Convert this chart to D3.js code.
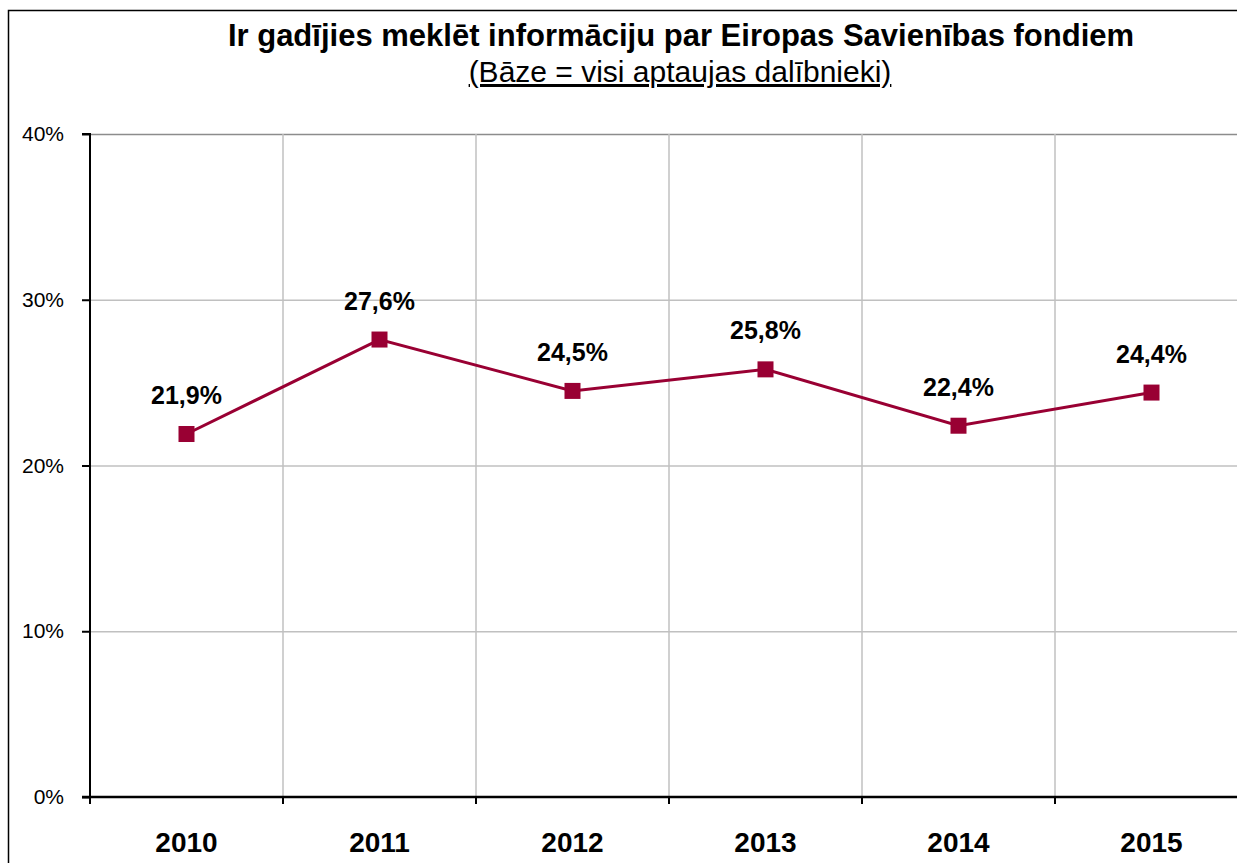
<!DOCTYPE html>
<html>
<head>
<meta charset="utf-8">
<script src="https://cdn.jsdelivr.net/npm/d3@7"></script>
<style>
html, body { margin: 0; padding: 0; background: #fff; }
svg { display: block; font-family: "Liberation Sans", Arial, sans-serif; }
</style>
</head>
<body>
<svg id="chart" width="1237" height="863"></svg>
<script>
// data
var years = ["2010", "2011", "2012", "2013", "2014", "2015"];
var values = [21.9, 27.6, 24.5, 25.8, 22.4, 24.4];
var yTicks = [0, 10, 20, 30, 40];

var svg = d3.select("#chart");
var plotLeft = 90, plotTop = 134, plotBottom = 797, band = 193;
var plotRight = plotLeft + band * years.length;

var x = d3.scaleBand().domain(years).range([plotLeft, plotRight]);
var y = d3.scaleLinear().domain([0, 40]).range([plotBottom, plotTop]);

// outer frame
svg.append("rect")
    .attr("x", 8.5).attr("y", 10.5)
    .attr("width", 1240).attr("height", 900)
    .attr("fill", "none").attr("stroke", "#000").attr("stroke-width", 1.5);

// horizontal grid
svg.append("g").selectAll("line")
    .data(yTicks.filter(function(d) { return d > 0; }))
  .enter().append("line")
    .attr("x1", plotLeft).attr("x2", plotRight)
    .attr("y1", function(d) { return y(d) + 0.5; })
    .attr("y2", function(d) { return y(d) + 0.5; })
    .attr("stroke", function(d) { return d === 40 ? "#8c8c8c" : "#c0c0c0"; })
    .attr("stroke-width", 1.5);

// vertical grid at band edges
svg.append("g").selectAll("line")
    .data(years.slice(1))
  .enter().append("line")
    .attr("x1", function(d) { return x(d); })
    .attr("x2", function(d) { return x(d); })
    .attr("y1", plotTop).attr("y2", plotBottom)
    .attr("stroke", "#c0c0c0").attr("stroke-width", 1.5);

// y axis
var yAxis = d3.axisLeft(y).tickValues(yTicks)
    .tickFormat(function(d) { return d + "%"; })
    .tickSize(8).tickPadding(18);
var gy = svg.append("g").attr("transform", "translate(" + plotLeft + ",0)").call(yAxis);
gy.select(".domain").attr("stroke", "#000").attr("stroke-width", 2)
    .attr("d", "M-8," + plotTop + "H0V" + plotBottom + "H-8");
gy.selectAll(".tick line").attr("stroke", "#000").attr("stroke-width", 2);
gy.selectAll(".tick text").attr("font-size", 21).attr("fill", "#000")
    .attr("font-family", "Liberation Sans, Arial, sans-serif");

// x axis
var gx = svg.append("g").attr("transform", "translate(0," + plotBottom + ")");
gx.append("line").attr("x1", plotLeft - 8).attr("x2", plotRight)
    .attr("stroke", "#000").attr("stroke-width", 2.5);
gx.selectAll("line.tk").data(years).enter().append("line")
    .attr("class", "tk")
    .attr("x1", function(d) { return x(d); })
    .attr("x2", function(d) { return x(d); })
    .attr("y1", 0).attr("y2", 7)
    .attr("stroke", "#000").attr("stroke-width", 2);
gx.selectAll("text").data(years).enter().append("text")
    .attr("x", function(d) { return x(d) + x.bandwidth() / 2; })
    .attr("y", 55)
    .attr("text-anchor", "middle")
    .attr("font-size", 28).attr("font-weight", "bold")
    .text(function(d) { return d; });

// line
var cx = function(d, i) { return x(years[i]) + x.bandwidth() / 2; };
var line = d3.line().x(cx).y(function(d) { return y(d); });
svg.append("path").datum(values)
    .attr("d", line)
    .attr("fill", "none").attr("stroke", "#990033").attr("stroke-width", 3);

svg.append("g").selectAll("rect").data(values).enter().append("rect")
    .attr("x", function(d, i) { return cx(d, i) - 8; })
    .attr("y", function(d) { return y(d) - 8; })
    .attr("width", 16).attr("height", 16)
    .attr("fill", "#990033");

// labels
svg.append("g").selectAll("text").data(values).enter().append("text")
    .attr("x", cx)
    .attr("y", function(d) { return y(d) - 30; })
    .attr("text-anchor", "middle")
    .attr("font-size", 25).attr("font-weight", "bold")
    .text(function(d) { return d.toFixed(1).replace(".", ",") + "%"; });

// title
svg.append("text").attr("x", 681).attr("y", 46)
    .attr("text-anchor", "middle").attr("font-size", 31).attr("font-weight", "bold")
    .text("Ir gadījies meklēt informāciju par Eiropas Savienības fondiem");
svg.append("text").attr("x", 680).attr("y", 82)
    .attr("text-anchor", "middle").attr("font-size", 30)
    .attr("text-decoration", "underline")
    .text("(Bāze = visi aptaujas dalībnieki)");
</script>
</body>
</html>
